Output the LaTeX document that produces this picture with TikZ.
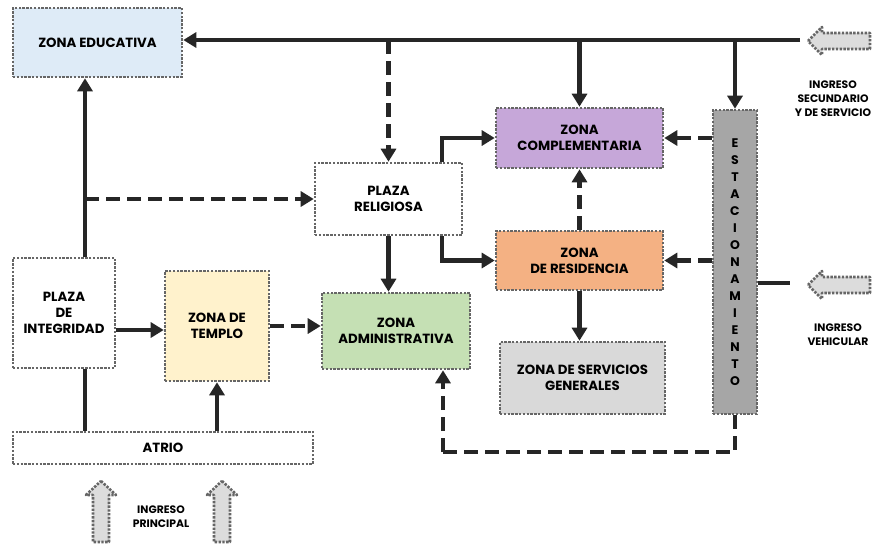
\documentclass[tikz,border=0pt]{standalone}
\usepackage{fontspec}
\setmainfont{Poppins}
\usetikzlibrary{arrows.meta,calc}
\definecolor{bordc}{HTML}{666666}
\definecolor{linec}{HTML}{262626}
\definecolor{edufill}{HTML}{DEEBF7}
\definecolor{compfill}{HTML}{C6A7D9}
\definecolor{resfill}{HTML}{F4B183}
\definecolor{admfill}{HTML}{C5E0B4}
\definecolor{servfill}{HTML}{D9D9D9}
\definecolor{estfill}{HTML}{A6A6A6}
\definecolor{temfill}{HTML}{FFF2CC}
\definecolor{ingfill}{HTML}{DCDCDC}
\tikzset{
  zone/.style={draw=bordc, line width=2.6pt, dash pattern=on 2.4pt off 1.4pt, fill=white,
    align=center, font=\fontsize{13.3}{16}\selectfont\bfseries, inner sep=0pt, text=black},
  conn/.style={draw=linec, line width=4.5pt},
  arr/.style={conn, -{Triangle[length=13pt,width=15pt]}},
  darr/.style={arr, dash pattern=on 14pt off 7pt},
  dline/.style={conn, dash pattern=on 14pt off 7pt},
  blockarr/.style={draw=bordc, line width=2.6pt, dash pattern=on 2.4pt off 1.4pt, fill=ingfill, line join=round},
  lab/.style={align=center, font=\fontsize{10.8}{14}\selectfont\bfseries, text=black}
}
\begin{document}
\begin{tikzpicture}[x=1pt,y=-1pt]
\useasboundingbox (0,0) rectangle (878,544);
% zones
\node[zone, fill=edufill, minimum width=169pt, minimum height=69pt] (edu) at (97.5,42.5) {ZONA EDUCATIVA};
\node[zone, fill=compfill, minimum width=167pt, minimum height=60pt] (comp) at (579.5,138) {ZONA\\COMPLEMENTARIA};
\node[zone, minimum width=147pt, minimum height=72pt] (plrel) at (388.5,199) {PLAZA\\RELIGIOSA};
\node[zone, fill=resfill, minimum width=167pt, minimum height=59pt] (res) at (579.5,260.5) {ZONA\\DE RESIDENCIA};
\node[zone, fill=estfill, minimum width=44pt, minimum height=304pt, font=\fontsize{12.5}{17}\selectfont\bfseries] (est) at (735,262) {E\\S\\T\\A\\C\\I\\O\\N\\A\\M\\I\\E\\N\\T\\O};
\node[zone, fill=admfill, minimum width=148pt, minimum height=76pt] (adm) at (396,331) {ZONA\\ADMINISTRATIVA};
\node[zone, fill=servfill, minimum width=165pt, minimum height=72pt] (serv) at (582.5,378) {ZONA DE SERVICIOS\\GENERALES};
\node[zone, minimum width=102pt, minimum height=110pt] (plint) at (64,313) {PLAZA\\DE\\INTEGRIDAD};
\node[zone, fill=temfill, minimum width=104pt, minimum height=110pt] (tem) at (217,326) {ZONA DE\\TEMPLO};
\node[zone, minimum width=300pt, minimum height=32pt] (atrio) at (163,448) {ATRIO};
% helper coordinates
\coordinate (topR) at (800,40);
\coordinate (v1) at (85,0);
\coordinate (vehR) at (790,283);
\coordinate (dcorner) at (443,452);
\coordinate (rel) at (442,0);
\coordinate (pint) at (115,330);
% connectors
\draw[arr] (topR) -- (topR -| edu.east);
\draw[darr] (plrel |- topR) -- (plrel.north);
\draw[arr] (comp |- topR) -- (comp.north);
\draw[arr] (est |- topR) -- (est.north);
\draw[darr] (est.west |- comp) -- (comp.east);
\draw[darr] (est.west |- res) -- (res.east);
\draw[darr] (res.north) -- (comp.south);
\draw[arr] (rel |- plrel.north) |- (comp.west);
\draw[arr] (rel |- plrel.south) |- (res.west);
\draw[arr] (plrel.south) -- (plrel.south |- adm.north);
\draw[arr] (res.south) -- (res.south |- serv.north);
\draw[dline] (est.south) |- (dcorner);
\draw[darr] (dcorner) -- (dcorner |- adm.south);
\draw[arr] (pint -| plint.east) -- (pint -| tem.west);
\draw[darr] (tem.east) -- (tem.east -| adm.west);
\draw[conn] (v1 |- atrio.north) -- (v1 |- plint.south);
\draw[arr] (v1 |- plint.north) -- (v1 |- edu.south);
\draw[darr] (v1 |- plrel.west) -- (plrel.west);
\draw[arr] (atrio.north -| tem) -- (tem.south);
\draw[conn] (vehR -| est.east) -- (vehR);
% block arrows (ingresos)
\draw[blockarr] (808,41) -- (822,27) -- (822,33) -- (870,33) -- (870,49) -- (822,49) -- (822,55) -- cycle;
\draw[blockarr] (808,285) -- (822,271) -- (822,277) -- (870,277) -- (870,293) -- (822,293) -- (822,299) -- cycle;
\draw[blockarr] (101,481) -- (116,495) -- (109,495) -- (109,542) -- (93,542) -- (93,495) -- (86,495) -- cycle;
\draw[blockarr] (222,481) -- (237,495) -- (230,495) -- (230,542) -- (214,542) -- (214,495) -- (207,495) -- cycle;
% labels
\node[lab] (lsec) at (833,99) {INGRESO\\SECUNDARIO\\Y DE SERVICIO};
\node[lab] (lveh) at (838,335) {INGRESO\\VEHICULAR};
\node[lab] (lprin) at (161,517) {INGRESO\\PRINCIPAL};
\end{tikzpicture}
\end{document}
